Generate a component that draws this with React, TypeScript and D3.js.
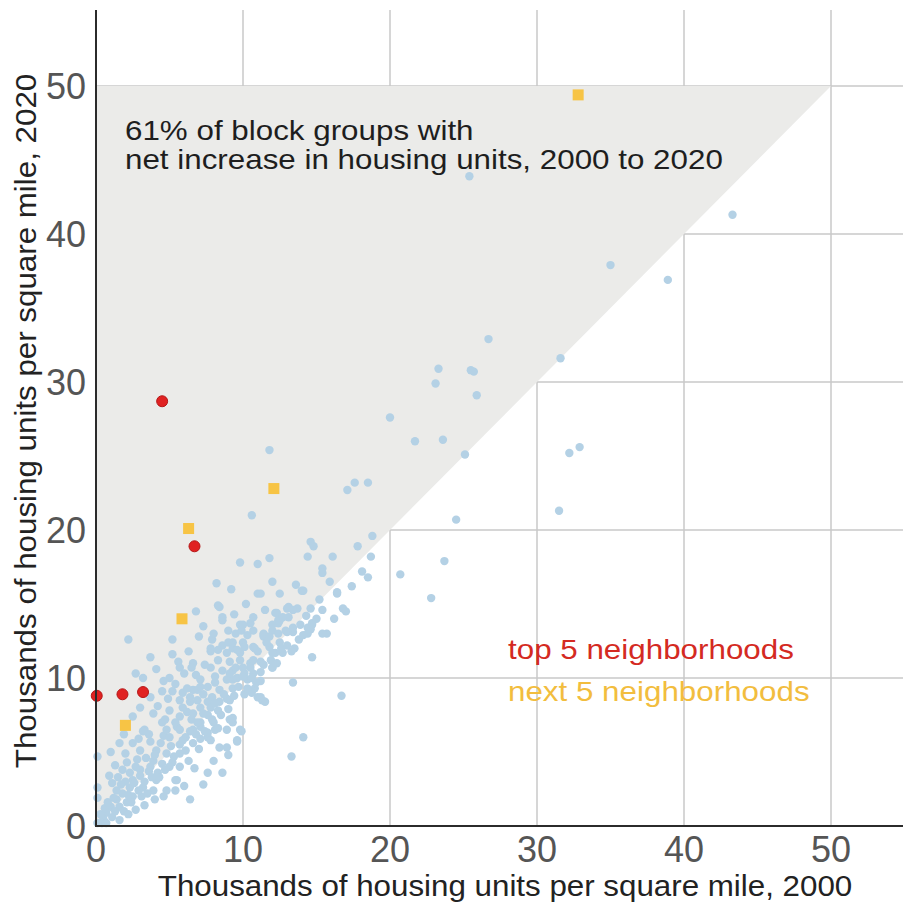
import React from "react";
import * as d3 from "d3";

const W = 903;
const H = 908;

const xTicks = [0, 10, 20, 30, 40, 50];
const yTicks = [0, 10, 20, 30, 40, 50];
const gridValues = [10, 20, 30, 40, 50];
const shadedCorners: [number, number][] = [[0, 0], [0, 50], [50, 50]];

const xTitle = "Thousands of housing units per square mile, 2000";
const yTitle = "Thousands of housing units per square mile, 2020";
const noteLines = ["61% of block groups with", "net increase in housing units, 2000 to 2020"];
const legendLabels = ["top 5 neighborhoods", "next 5 neighborhoods"];

// block groups (thousands of units / sq mi): [2000, 2020]
const blockGroups: [number, number][] = [
  [25.4, 43.9], [43.3, 41.3], [35.0, 37.9], [38.9, 36.9], [26.7, 32.9], [31.6, 31.6],
  [23.3, 30.9], [23.1, 29.9], [25.5, 30.8], [25.7, 30.7], [25.9, 29.1], [20.0, 27.6],
  [23.6, 26.1], [21.7, 26.0], [32.9, 25.6], [32.2, 25.2], [25.1, 25.1], [11.8, 25.4],
  [17.6, 23.2], [17.1, 22.7], [18.5, 23.2], [24.5, 20.7], [31.5, 21.3], [23.7, 17.9],
  [20.7, 17.0], [22.8, 15.4], [18.8, 19.6], [10.6, 21.0], [16.7, 8.8], [13.4, 9.7],
  [14.1, 6.0], [13.3, 4.7],
  [1.6, 5.6], [3.3, 6.5], [4.5, 7.0], [5.0, 7.8], [6.2, 7.7], [6.4, 8.4], [7.6, 8.4],
  [5.5, 6.7], [6.4, 6.4], [7.1, 6.7], [7.6, 6.0], [8.1, 6.5], [2.5, 5.6], [3.0, 5.1],
  [3.7, 5.7], [4.1, 5.1], [4.8, 4.9], [5.7, 4.9], [5.2, 4.3], [2.1, 4.3], [2.8, 4.5],
  [3.0, 3.8], [3.7, 4.0], [1.8, 3.8], [5.0, 4.0], [5.7, 4.0], [6.7, 3.9], [5.4, 3.1],
  [4.1, 3.1], [2.5, 3.1], [2.3, 2.6], [3.2, 2.6], [3.9, 2.4], [1.8, 2.2], [2.5, 2.0],
  [1.1, 2.9], [1.4, 1.8], [1.0, 1.3], [0.7, 0.9], [0.5, 0.5], [0.4, 0.2], [1.6, 1.3],
  [2.1, 1.6], [2.7, 1.1], [3.1, 2.0], [4.0, 1.8], [6.4, 1.8], [1.6, 0.4], [5.5, 3.1],
  [4.2, 3.6], [4.8, 2.4], [5.4, 2.4], [0.1, 4.7], [0.1, 2.6], [0.1, 1.9], [0.1, 0.2],
  [0.3, 0.8], [0.6, 1.2], [1.2, 1.9], [1.4, 2.4], [2.0, 3.0], [1.5, 3.3], [2.3, 3.6],
  [2.7, 4.0], [3.4, 4.6], [3.9, 4.4], [4.4, 5.6], [4.6, 6.1], [3.6, 6.2], [2.9, 5.9],
  [2.0, 4.9], [1.3, 4.1], [0.9, 3.4], [3.8, 3.3], [4.5, 4.2], [3.3, 3.0], [2.9, 2.4],
  [2.4, 1.6], [1.9, 1.0], [1.1, 0.6], [0.7, 0.2],
  [7.3, 13.5], [8.6, 13.9], [9.8, 13.6], [10.5, 13.7], [12.4, 13.7], [9.0, 13.2],
  [10.7, 13.2], [11.4, 12.9], [12.0, 13.2], [8.6, 12.2], [9.3, 12.0], [10.0, 12.4],
  [10.7, 12.1], [11.0, 11.8], [11.8, 12.1], [7.8, 11.8], [8.9, 11.7], [9.8, 11.7],
  [12.2, 11.7], [8.3, 11.2], [9.1, 11.1], [9.8, 11.2], [10.5, 11.0], [11.2, 11.1],
  [5.6, 11.1], [6.6, 11.0], [5.7, 10.7], [6.5, 10.7], [7.8, 10.7], [8.6, 10.5],
  [9.3, 10.5], [10.1, 10.3], [10.7, 10.3], [11.2, 10.4], [12.0, 10.7], [5.0, 10.0],
  [7.1, 9.9], [8.1, 9.7], [8.9, 9.9], [9.6, 10.0], [10.3, 9.9], [7.6, 9.4], [8.4, 9.2],
  [9.3, 9.3], [6.6, 9.2], [10.8, 9.3], [4.5, 9.1], [5.2, 9.1], [5.9, 9.0], [7.3, 8.9],
  [7.9, 8.7], [8.9, 8.6], [5.7, 8.5], [6.9, 8.5], [8.4, 8.4], [9.1, 8.5], [11.0, 8.7],
  [11.3, 8.5], [11.5, 8.4], [5.9, 8.0], [7.1, 8.0], [7.8, 8.0], [8.3, 7.8], [6.6, 7.6],
  [7.6, 7.5], [5.7, 7.4], [4.7, 7.2], [5.4, 7.0], [6.5, 7.2], [7.1, 7.0], [8.0, 7.0],
  [9.1, 7.2], [9.8, 6.5], [4.8, 6.5], [5.7, 6.5], [6.6, 6.5], [7.6, 6.3], [8.3, 6.6],
  [8.9, 6.5], [5.0, 6.0], [6.1, 6.0], [7.1, 5.9], [7.8, 5.8], [9.6, 5.8], [8.4, 5.3],
  [6.6, 5.6], [5.7, 5.5],
  [14.6, 19.2], [14.8, 18.9], [9.8, 17.8], [11.0, 17.7], [11.8, 18.1], [14.4, 18.2],
  [16.1, 18.2], [15.4, 17.4], [15.4, 17.1], [11.0, 15.7], [12.5, 15.7], [14.1, 15.9],
  [16.4, 15.7], [13.1, 14.8], [13.7, 14.7], [14.6, 14.7], [15.4, 14.6], [16.8, 14.7],
  [17.0, 14.5], [12.2, 14.4], [10.7, 14.1], [12.5, 13.9], [13.1, 14.1], [14.7, 13.7],
  [10.0, 13.6], [12.0, 13.6], [14.6, 13.3], [14.4, 13.0], [15.7, 13.0], [9.5, 13.0],
  [9.9, 13.2], [10.3, 12.9], [11.4, 12.8], [12.4, 13.0], [13.0, 13.1], [13.4, 13.1],
  [11.6, 12.4], [12.5, 12.4], [13.5, 12.0], [14.7, 11.4], [12.0, 11.7], [12.7, 11.7],
  [10.8, 12.0], [10.1, 12.1], [9.6, 11.9], [9.3, 12.4], [10.7, 11.2], [11.4, 10.9],
  [12.0, 10.7], [10.5, 10.7], [9.5, 10.7],
  [10.6, 9.0], [11.2, 8.7], [9.6, 5.7], [9.3, 7.0], [9.3, 7.3], [9.3, 9.9], [10.0, 10.7],
  [10.0, 10.1], [8.6, 3.6], [3.7, 11.4], [2.2, 12.6], [8.2, 16.4], [11.2, 15.7],
  [14.0, 15.9], [8.4, 14.8], [3.2, 10.0], [6.4, 8.7], [6.9, 9.2], [3.2, 6.4], [8.9, 5.3],
  [9.9, 6.4], [8.3, 14.9], [8.6, 14.1], [7.8, 12.0], [8.3, 11.9], [9.0, 12.4], [6.2, 9.3],
  [7.1, 9.4], [8.1, 10.1], [9.1, 10.3],
  [17.8, 18.9], [18.7, 18.2], [18.1, 17.2], [18.5, 16.8], [16.4, 15.8], [13.0, 14.7],
  [13.4, 14.6], [12.3, 14.4], [12.4, 13.9], [12.7, 14.1], [11.4, 13.0], [11.8, 12.8],
  [12.9, 13.2], [13.4, 13.4], [14.4, 13.4], [14.7, 13.6], [15.4, 13.0],
  [0.8, 1.6], [1.3, 1.0], [1.7, 2.8], [2.2, 2.1], [2.6, 2.9], [3.0, 3.4], [3.5, 2.2],
  [3.6, 3.7], [4.0, 4.8], [4.3, 3.3], [4.7, 3.8], [5.1, 5.4], [5.3, 4.7], [5.9, 5.8],
  [6.1, 5.1], [6.3, 4.4], [6.8, 6.2], [6.9, 7.0], [7.3, 7.6], [7.4, 6.4], [7.9, 7.2],
  [8.1, 8.3], [8.5, 7.5], [8.7, 8.9], [9.0, 7.9], [9.4, 8.8], [9.7, 9.4], [10.1, 8.9],
  [10.3, 9.3], [10.6, 10.0], [10.9, 9.7], [11.2, 9.8], [11.9, 11.2], [12.3, 11.0],
  [12.6, 12.0], [13.0, 12.2], [13.3, 11.8], [13.8, 12.6], [14.1, 12.9], [14.3, 14.2],
  [13.9, 13.6], [15.0, 14.0], [15.2, 15.3], [4.2, 8.1], [4.9, 8.6], [5.4, 9.6], [6.0, 10.3],
  [6.8, 10.2], [7.4, 10.9], [7.9, 12.6], [6.3, 11.8], [5.2, 11.6], [4.1, 10.6], [3.7, 8.7],
  [2.5, 7.4], [3.0, 8.0], [1.9, 6.2], [1.0, 5.0], [3.9, 7.6], [4.6, 9.8], [2.7, 10.3],
  [7.0, 12.8], [8.0, 13.0], [9.4, 14.3], [10.2, 15.0], [11.5, 14.6], [12.0, 16.5],
  [13.6, 16.3], [15.9, 16.5], [16.2, 14.0], [17.4, 16.2], [9.2, 16.0], [6.8, 14.5],
  [5.2, 12.6], [7.3, 2.8], [6.0, 2.7], [8.0, 4.4], [7.0, 5.2], [9.0, 4.8], [7.6, 3.6],
  [2.2, 0.8], [3.3, 1.4], [4.6, 2.0],
];

const topFive: [number, number][] = [[0.05, 8.8], [1.8, 8.9], [3.2, 9.05], [4.5, 28.7], [6.7, 18.9]];
const nextFive: [number, number][] = [[2.0, 6.8], [5.85, 14.0], [6.3, 20.1], [12.1, 22.8], [32.8, 49.4]];

const FONT = "'Liberation Sans', Arial, Helvetica, sans-serif";

export default function App() {
  const x = d3.scaleLinear().domain([0, 55]).range([96, 904.5]);
  const y = d3.scaleLinear().domain([0, 55]).range([826, 12]);
  const tri = d3.line()(shadedCorners.map(([a, b]) => [x(a), y(b)] as [number, number])) + "Z";

  return (
    <svg width={W} height={H} style={{ position: "absolute", left: 0, top: 0, display: "block", background: "#fff" }} fontFamily={FONT}>
      {gridValues.map((v) => (
        <line key={"gx" + v} x1={x(v)} x2={x(v)} y1={y(0)} y2={10} stroke="#c9c9c9" strokeWidth={1.5} />
      ))}
      {gridValues.map((v) => (
        <line key={"gy" + v} x1={x(0)} x2={W} y1={y(v)} y2={y(v)} stroke="#c9c9c9" strokeWidth={1.5} />
      ))}
      <path d={tri} fill="#ebebe9" />

      {blockGroups.map(([a, b], i) => (
        <circle key={"b" + i} cx={x(a)} cy={y(b)} r={4.2} fill="#b4d1e5" />
      ))}
      {nextFive.map(([a, b], i) => (
        <rect key={"n" + i} x={x(a) - 5.5} y={y(b) - 5.5} width={11} height={11} fill="#f7c445" />
      ))}
      {topFive.map(([a, b], i) => (
        <circle key={"t" + i} cx={x(a)} cy={y(b)} r={5.5} fill="#e02222" stroke="#b51818" strokeWidth={1} />
      ))}

      <line x1={x(0)} x2={x(0)} y1={10} y2={y(0) + 1} stroke="#2b2b2b" strokeWidth={2} />
      <line x1={x(0) - 1} x2={W} y1={y(0)} y2={y(0)} stroke="#2b2b2b" strokeWidth={2} />

      {xTicks.map((v) => (
        <text key={"xt" + v} x={x(v)} y={862} textAnchor="middle" fontSize={36} fill="#555">{v}</text>
      ))}
      {yTicks.map((v) => (
        <text key={"yt" + v} x={86} y={y(v) + 13} textAnchor="end" fontSize={36} fill="#555">{v}</text>
      ))}

      <text transform="translate(505,896) scale(1.08,1)" textAnchor="middle" fontSize={29} fill="#222">{xTitle}</text>
      <text transform="translate(36,421) rotate(-90) scale(1.08,1)" textAnchor="middle" fontSize={29} fill="#222">{yTitle}</text>

      {noteLines.map((t, i) => (
        <text key={"nl" + i} transform={`translate(125,${140 + i * 29}) scale(1.12,1)`} fontSize={28} fill="#1e1e1e">{t}</text>
      ))}

      <text transform="translate(508,659) scale(1.12,1)" fontSize={28} fill="#d42a22">{legendLabels[0]}</text>
      <text transform="translate(508,701) scale(1.12,1)" fontSize={28} fill="#f2bd3e">{legendLabels[1]}</text>
    </svg>
  );
}
